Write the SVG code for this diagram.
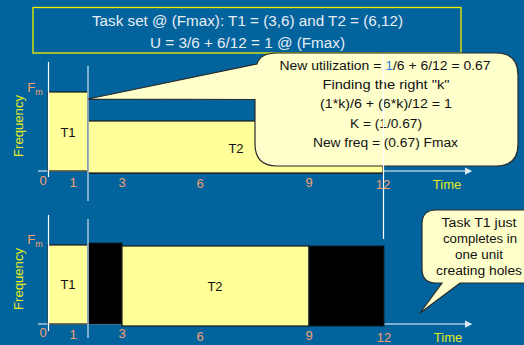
<svg xmlns="http://www.w3.org/2000/svg" width="524" height="345" viewBox="0 0 524 345">
<defs>
<style>
text{font-family:"Liberation Sans",Arial,sans-serif}
.title{fill:#E6EEF5;font-size:14px;text-anchor:middle}
.num{fill:#F2A072;font-size:13px;text-anchor:middle}
.ylw{fill:#E4EC1C;font-size:13px;text-anchor:middle}
.lbl{fill:#111;font-size:13px;text-anchor:middle}
.co{fill:#111;font-size:12px;text-anchor:middle}
.box{fill:#FFFF99;stroke:#1a1a1a;stroke-width:1.2}
.blk{fill:#000;stroke:#0a2030;stroke-width:1}
.call{fill:#FFFFCC;stroke:#2a2a2a;stroke-width:1.2}
.axw{stroke:#FFFFFF;stroke-width:1.2}
.axb{stroke:#A8C8E0;stroke-width:1.5}
</style>
<marker id="arr" viewBox="0 0 6 6" refX="5" refY="3" markerWidth="5" markerHeight="5" orient="auto">
<path d="M0,0 L6,3 L0,6 Z" fill="#D8E8F4"/>
</marker>
</defs>
<rect x="0" y="0" width="524" height="345" fill="#03639C"/>

<g id="title">
<rect x="33" y="7.5" width="428" height="45.5" fill="none" stroke="#F0F000" stroke-width="1.3"/>
<text class="title" x="247.5" y="26" textLength="311" lengthAdjust="spacingAndGlyphs">Task set @ (Fmax): T1 = (3,6) and T2 = (6,12)</text>
<text class="title" x="247.5" y="48" textLength="195" lengthAdjust="spacingAndGlyphs">U = 3/6 + 6/12 = 1 @ (Fmax)</text>
</g>

<g id="connectors">
<line class="axb" x1="38" y1="171" x2="471" y2="171" marker-end="url(#arr)"/>
<line class="axb" x1="38" y1="324" x2="471" y2="324" marker-end="url(#arr)"/>
</g>

<g id="top-chart">
<g id="top-t1"><rect class="box" x="48" y="92" width="40" height="79"/><text class="lbl" x="68" y="137">T1</text></g>
<g id="top-t2">
<rect x="88" y="99" width="295" height="74" fill="none" stroke="#1a1a1a" stroke-width="1.2"/>
<rect class="box" x="88" y="121" width="295" height="52"/>
<text class="lbl" x="236" y="153">T2</text>
</g>
<line class="axw" x1="48.5" y1="62" x2="48.5" y2="177"/>
<line class="axb" x1="88" y1="66" x2="88" y2="201"/>
<text class="num" x="35" y="92">F<tspan font-size="9" dy="3">m</tspan></text>
<text class="ylw" transform="translate(23,126) rotate(-90)" textLength="62" lengthAdjust="spacingAndGlyphs">Frequency</text>
<text class="num" x="43" y="185">0</text>
<text class="num" x="73" y="187">1</text>
<text class="num" x="122" y="187">3</text>
<text class="num" x="200" y="188">6</text>
<text class="num" x="309" y="187">9</text>
<text class="num" x="383" y="189">12</text>
<text class="ylw" x="447" y="189">Time</text>
</g>

<g id="callout-top">
<path class="call" d="M277,53 H496 Q518,53 518,75 V144 Q518,166 496,166 H277 Q255,166 255,144 V99.5 L88,99 L257,64 Q260,53 277,53 Z"/>
<text class="co" x="385" y="70" textLength="211" lengthAdjust="spacingAndGlyphs">New utilization = <tspan fill="#2E7FE0">1</tspan>/6 + 6/12 = 0.67</text>
<text class="co" x="386" y="89" textLength="127" lengthAdjust="spacingAndGlyphs">Finding the right "k"</text>
<text class="co" x="386" y="108" textLength="132" lengthAdjust="spacingAndGlyphs">(1*k)/6 + (6*k)/12 = 1</text>
<text class="co" x="386" y="128" textLength="72" lengthAdjust="spacingAndGlyphs">K = (1/0.67)</text>
<text class="co" x="385.5" y="147" textLength="145" lengthAdjust="spacingAndGlyphs">New freq = (0.67) Fmax</text>
</g>
<line class="axw" x1="383.5" y1="54" x2="383.5" y2="239"/>

<g id="bottom-chart">
<g id="bot-t1"><rect class="box" x="48" y="245" width="40" height="79"/><text class="lbl" x="68" y="289">T1</text></g>
<g id="bot-idle1"><rect class="blk" x="88" y="243" width="34" height="81"/></g>
<g id="bot-t2"><rect class="box" x="122" y="246" width="187" height="80"/><text class="lbl" x="215" y="291">T2</text></g>
<g id="bot-idle2"><rect class="blk" x="309" y="246" width="75" height="80"/></g>
<line class="axw" x1="48.5" y1="215" x2="48.5" y2="331"/>
<line class="axb" x1="88" y1="219" x2="88" y2="338"/>
<text class="num" x="35" y="244">F<tspan font-size="9" dy="3">m</tspan></text>
<text class="ylw" transform="translate(23,279) rotate(-90)" textLength="62" lengthAdjust="spacingAndGlyphs">Frequency</text>
<text class="num" x="43" y="337">0</text>
<text class="num" x="73" y="339">1</text>
<text class="num" x="122" y="338">3</text>
<text class="num" x="200" y="341">6</text>
<text class="num" x="309" y="340">9</text>
<text class="num" x="384" y="342">12</text>
<text class="ylw" x="448" y="342">Time</text>
</g>

<g id="callout-bottom">
<path class="call" d="M436,210 H528 V283 H460 L420,313 L442,283 H436 Q422,283 422,269 V224 Q422,210 436,210 Z"/>
<text class="co" x="479" y="227" textLength="75" lengthAdjust="spacingAndGlyphs">Task T1 just</text>
<text class="co" x="480" y="243" textLength="74" lengthAdjust="spacingAndGlyphs">completes in</text>
<text class="co" x="479" y="259" textLength="48" lengthAdjust="spacingAndGlyphs">one unit</text>
<text class="co" x="479" y="275" textLength="86" lengthAdjust="spacingAndGlyphs">creating holes</text>
</g>
</svg>
